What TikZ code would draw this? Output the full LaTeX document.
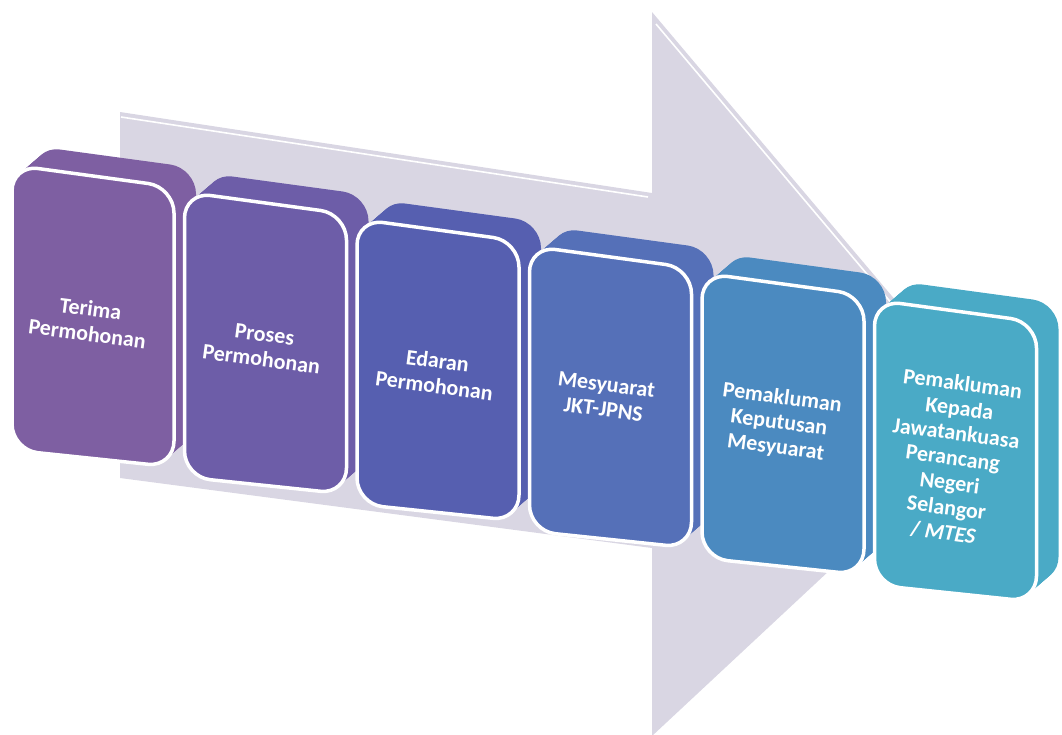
\documentclass[tikz,border=0pt]{standalone}
\usepackage{fontspec}
\setmainfont{Carlito}
\definecolor{arrowc}{HTML}{D9D6E3}
\definecolor{cA}{HTML}{7E5FA2}
\definecolor{cB}{HTML}{6D5DA8}
\definecolor{cC}{HTML}{565FB0}
\definecolor{cD}{HTML}{5570B8}
\definecolor{cE}{HTML}{4B8AC0}
\definecolor{cF}{HTML}{4AAAC6}
\tikzset{
  frontface/.style={draw=white, line width=3.5pt, rounded corners=26pt},
  backface/.style={rounded corners=26pt},
  steplabel/.style={text=white, font=\bfseries\fontsize{22}{25}\selectfont, align=center, rotate=-7.5, inner sep=0pt},
  bevel/.style={draw=white, line width=1.6pt}
}
\begin{document}
\begin{tikzpicture}[x=1pt,y=-1pt]
\useasboundingbox (0,0) rectangle (1062,734);
% big arrow
\fill[arrowc] (120,112) -- (652,193) -- (652,12) -- (994,417) -- (652,736) -- (652,548) -- (120,478) -- cycle;
\draw[bevel] (121,117) -- (648,197);
\draw[bevel] (656,24) -- (985,414);
% boxes
\foreach \i/\c in {0/cA,1/cB,2/cC,3/cD,4/cE,5/cF}{
  \pgfmathsetmacro\bx{12+172.5*\i}
  \pgfmathsetmacro\by{165+27*\i}
  \foreach \k in {0,...,14}{
    \pgfmathsetmacro\dx{22*(1-\k/14)}
    \pgfmathsetmacro\dy{-19*(1-\k/14)}
    \fill[backface, \c] (\bx+\dx,\by+\dy) -- (\bx+162+\dx,\by+22+\dy) -- (\bx+162+\dx,\by+302+\dy) -- (\bx+\dx,\by+285+\dy) -- cycle;
  }
  \draw[frontface, fill=\c] (\bx,\by) -- (\bx+162,\by+22) -- (\bx+162,\by+302) -- (\bx,\by+285) -- cycle;
}
% labels
\node[steplabel] (t1) at (89,321) {Terima\\Permohonan};
\node[steplabel] (t2) at (263,347) {Proses\\Permohonan};
\node[steplabel] (t3) at (436,373) {Edaran\\Permohonan};
\node[steplabel] (t4) at (605,397) {Mesyuarat\\JKT-JPNS};
\node[steplabel] (t5) at (779,423) {Pemakluman\\Keputusan\\Mesyuarat};
\node[steplabel] (t6) at (953,458) {Pemakluman\\Kepada\\Jawatankuasa\\Perancang\\Negeri\\Selangor\\/ \textit{MTES}};
\end{tikzpicture}
\end{document}
